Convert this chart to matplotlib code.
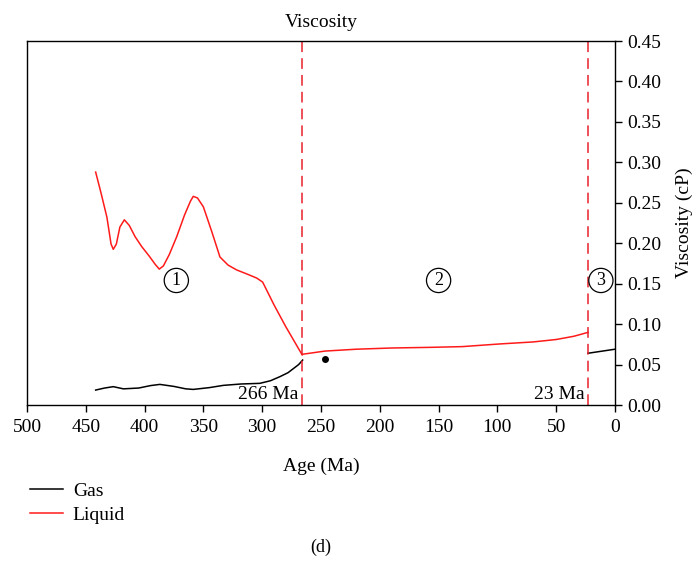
import numpy as np
import matplotlib
matplotlib.use("Agg")
import matplotlib.pyplot as plt

# values
liq_age = [441.6, 437, 432, 428.5, 426.6, 424, 421, 417.2, 413, 408, 402.5, 396, 391,
           387.5, 384, 379, 372.7, 366, 361, 358.6, 355, 350, 343, 335.9, 329, 321.7,
           313, 304.7, 299.6, 290, 280, 272, 266]
liq_val = [0.288, 0.262, 0.232, 0.199, 0.1925, 0.199, 0.220, 0.229, 0.222, 0.208, 0.196,
           0.184, 0.174, 0.168, 0.172, 0.186, 0.208, 0.235, 0.252, 0.258, 0.256, 0.245,
           0.215, 0.183, 0.173, 0.167, 0.162, 0.157, 0.152, 0.124, 0.097, 0.077, 0.062]
liq2_age = [266, 246.6, 220, 190, 157, 130, 98, 69.5, 50, 35, 23]
liq2_val = [0.0627, 0.0667, 0.069, 0.0705, 0.0713, 0.0722, 0.0755, 0.078, 0.081, 0.085, 0.0898]

gas_age = [441.6, 434, 426.6, 418, 405, 395, 387, 375, 365, 358.6, 345, 333, 318, 302,
           293, 285, 278, 273.5, 269, 265.6]
gas_val = [0.0185, 0.021, 0.0227, 0.020, 0.021, 0.024, 0.0255, 0.023, 0.020, 0.0193,
           0.0215, 0.0243, 0.026, 0.0268, 0.030, 0.035, 0.040, 0.045, 0.050, 0.0556]
gas2_age = [23, 0]
gas2_val = [0.064, 0.069]

dot_age, dot_val = 246.6, 0.057
boundaries = [266, 23]
stage_age = [373, 150, 12]
stage_lbl = ["1", "2", "3"]
xticks = [500, 450, 400, 350, 300, 250, 200, 150, 100, 50, 0]
yticks = [0.0, 0.05, 0.10, 0.15, 0.20, 0.25, 0.30, 0.35, 0.40, 0.45]

plt.rcParams['font.family'] = ['Liberation Serif', 'DejaVu Serif']
plt.rcParams['font.size'] = 14

fig = plt.figure(figsize=(6.95, 5.63), dpi=100)
ax = fig.add_axes([0.0388, 0.2806, 0.8461, 0.6465])

ax.plot(gas_age, gas_val, color="black", lw=1.1, label="Gas")
ax.plot(liq_age, liq_val, color="#ff1a1a", lw=1.1, label="Liquid")
ax.plot(liq2_age, liq2_val, color="#ff1a1a", lw=1.1)
ax.plot(gas2_age, gas2_val, color="black", lw=1.1)
ax.plot([dot_age], [dot_val], "o", color="black", ms=4)

for b in boundaries:
    ax.axvline(b, color="#e8202a", lw=1.1, ls=(0, (7, 4)))
ax.text(269, 0.002, "266 Ma", ha="right", va="bottom", fontsize=14)
ax.text(26, 0.002, "23 Ma", ha="right", va="bottom", fontsize=14)

for a, s in zip(stage_age, stage_lbl):
    ax.text(a, 0.154, s, ha="center", va="center", fontsize=13,
            bbox=dict(boxstyle="circle,pad=0.2", fc="white", ec="black", lw=0.9))

ax.set_xlim(500, 0)
ax.set_ylim(0, 0.45)
ax.set_xticks(xticks)
ax.set_yticks(yticks)
ax.set_yticklabels(["%.2f" % v for v in yticks])
ax.yaxis.tick_right()
ax.yaxis.set_label_position("right")
ax.tick_params(axis="both", direction="out", length=5, width=1, labelsize=14)
ax.tick_params(axis="x", pad=5)
ax.tick_params(axis="y", pad=4)
ax.set_xlabel("Age (Ma)", fontsize=14, labelpad=16)
ax.set_ylabel("Viscosity (cP)", fontsize=14, labelpad=10)
ax.set_title("Viscosity", fontsize=14, pad=10)
for sp in ax.spines.values():
    sp.set_linewidth(1.0)

ax.legend(loc="upper left", bbox_to_anchor=(-0.008, -0.19), frameon=False,
          fontsize=14, handlelength=1.7, handletextpad=0.5, labelspacing=0.35,
          borderaxespad=0)

fig.text(0.462, 0.028, "(d)", ha="center", va="center", fontsize=13)

fig.savefig("out.png", dpi=100)
